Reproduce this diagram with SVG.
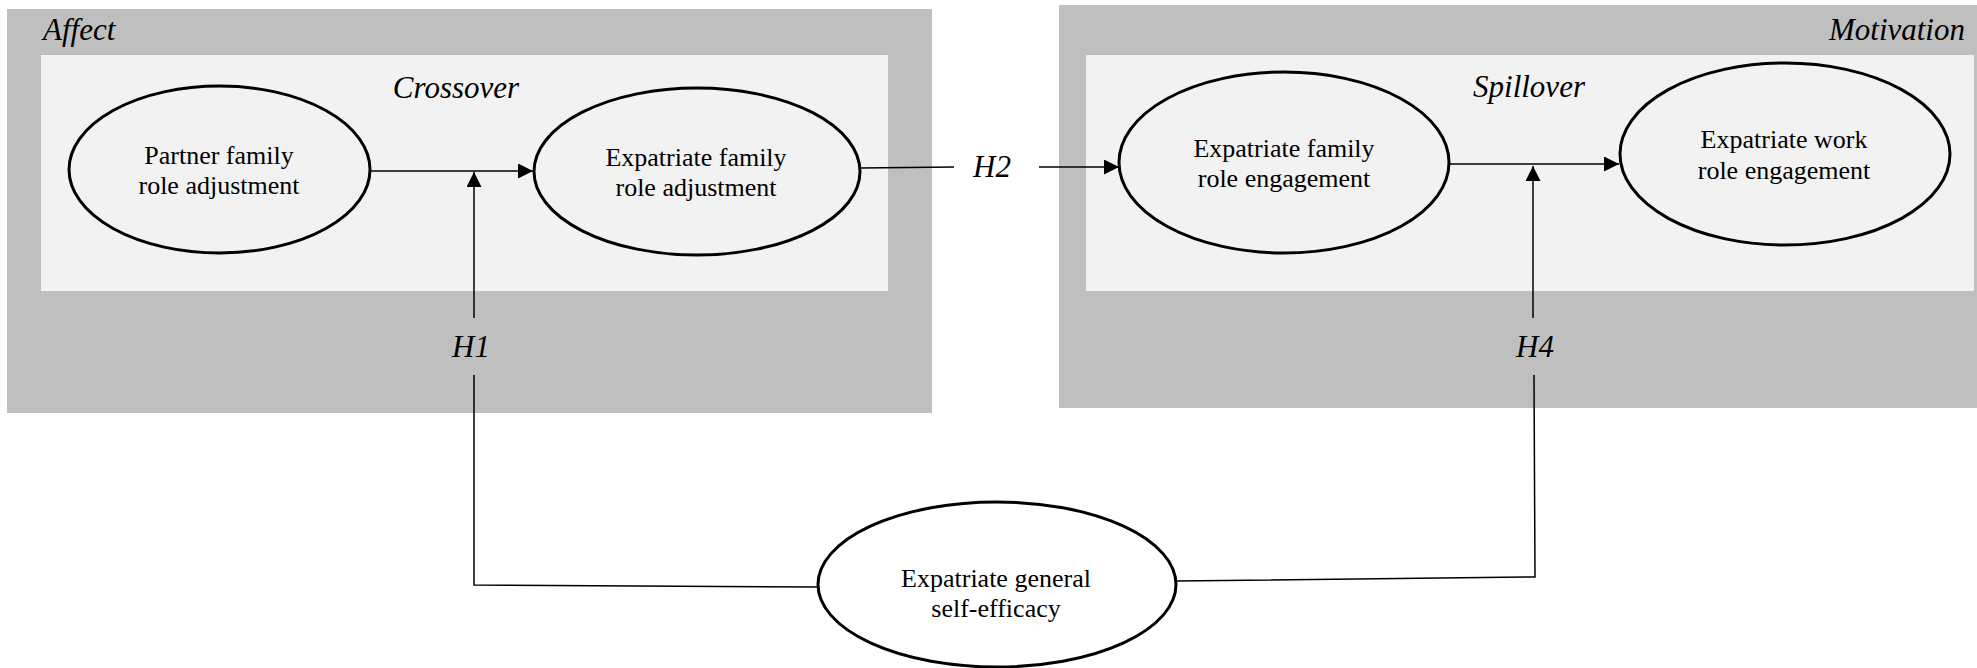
<svg xmlns="http://www.w3.org/2000/svg" width="1977" height="668" viewBox="0 0 1977 668">
<style>
.outer{fill:#bfbfbf}
.inner{fill:#f2f2f2}
.node{fill:#f2f2f2;stroke:#000;stroke-width:3}
.nodew{fill:#fff;stroke:#000;stroke-width:3}
.t{font-family:"Liberation Serif","Times New Roman",serif;font-size:26px;fill:#000;text-anchor:middle}
.lab{font-family:"Liberation Serif","Times New Roman",serif;font-size:31px;font-style:italic;fill:#000}
.c{fill:none;stroke:#000;stroke-width:1.5}
</style>
<defs>
<marker id="ah" markerWidth="15" markerHeight="15" refX="15" refY="7.5" orient="auto" markerUnits="userSpaceOnUse">
<path d="M0,0 L15,7.5 L0,15 Z" fill="#000"/>
</marker>
</defs>
<g id="affect-box">
<rect class="outer" x="7" y="9" width="925" height="404"/>
<rect class="inner" x="41" y="55" width="847" height="236"/>
<text class="lab" x="43" y="40">Affect</text>
<text class="lab" x="456" y="98" text-anchor="middle">Crossover</text>
</g>
<g id="motivation-box">
<rect class="outer" x="1059" y="5" width="918" height="403"/>
<rect class="inner" x="1086" y="55" width="888" height="236"/>
<text class="lab" x="1965" y="40" text-anchor="end">Motivation</text>
<text class="lab" x="1529" y="97" text-anchor="middle">Spillover</text>
</g>
<g id="connectors">
<line class="c" x1="370" y1="171" x2="533" y2="171" marker-end="url(#ah)"/>
<line class="c" x1="474" y1="318" x2="474" y2="172" marker-end="url(#ah)"/>
<polyline class="c" points="474,375 474,585 818,587"/>
<line class="c" x1="860" y1="168" x2="954" y2="167"/>
<line class="c" x1="1039" y1="167" x2="1119" y2="167" marker-end="url(#ah)"/>
<line class="c" x1="1449" y1="164" x2="1619" y2="164" marker-end="url(#ah)"/>
<line class="c" x1="1533" y1="318" x2="1533" y2="166" marker-end="url(#ah)"/>
<polyline class="c" points="1176,581 1535,577 1534,375"/>
<text class="lab" x="471" y="357" text-anchor="middle">H1</text>
<text class="lab" x="992" y="177" text-anchor="middle">H2</text>
<text class="lab" x="1535" y="357" text-anchor="middle">H4</text>
</g>
<g id="partner-family-role-adjustment">
<ellipse class="node" cx="219.5" cy="169.5" rx="150.5" ry="83.5"/>
<text class="t" x="219" y="164">Partner family</text>
<text class="t" x="219" y="194">role adjustment</text>
</g>
<g id="expatriate-family-role-adjustment">
<ellipse class="node" cx="697" cy="171.5" rx="163" ry="83.5"/>
<text class="t" x="696" y="166">Expatriate family</text>
<text class="t" x="696" y="196">role adjustment</text>
</g>
<g id="expatriate-family-role-engagement">
<ellipse class="node" cx="1284" cy="162.5" rx="165" ry="90.5"/>
<text class="t" x="1284" y="157">Expatriate family</text>
<text class="t" x="1284" y="187">role engagement</text>
</g>
<g id="expatriate-work-role-engagement">
<ellipse class="node" cx="1785" cy="154" rx="165" ry="91"/>
<text class="t" x="1784" y="148">Expatriate work</text>
<text class="t" x="1784" y="179">role engagement</text>
</g>
<g id="expatriate-general-self-efficacy">
<ellipse class="nodew" cx="997" cy="584.5" rx="179" ry="82.5"/>
<text class="t" x="996" y="587">Expatriate general</text>
<text class="t" x="996" y="617">self-efficacy</text>
</g>
</svg>
